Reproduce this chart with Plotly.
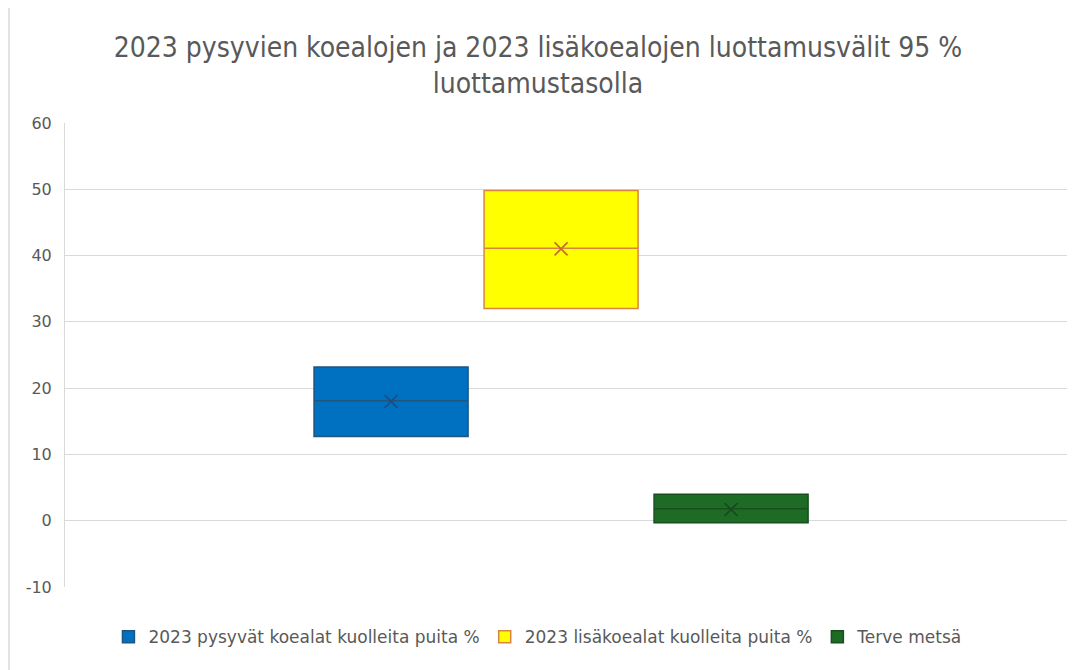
import plotly.graph_objects as go

series = ["2023 pysyvät koealat kuolleita puita %",
          "2023 lisäkoealat kuolleita puita %",
          "Terve metsä"]
q1 = [12.7, 32.0, -0.3]
median = [18.1, 41.1, 1.8]
q3 = [23.2, 49.8, 4.0]
mean = [18.0, 41.0, 1.7]

y_tickvals = [-10, 0, 10, 20, 30, 40, 50, 60]
y_ticktext = ["-10", "0", "10", "20", "30", "40", "50", "60"]

fill_colors = ["#0070C0", "#FFFF00", "#1E6B26"]
line_colors = ["#1F5680", "#D9853F", "#17501E"]
mean_colors = ["#1B4F78", "#C9692E", "#16491C"]

fig = go.Figure()
for i, name in enumerate(series):
    fig.add_trace(go.Box(
        name=name, x=[name],
        q1=[q1[i]], median=[median[i]], q3=[q3[i]],
        lowerfence=[q1[i]], upperfence=[q3[i]],
        fillcolor=fill_colors[i],
        line=dict(color=line_colors[i], width=1.5),
        whiskerwidth=0, width=0.906,
        hoverinfo="skip",
    ))
fig.add_trace(go.Scatter(
    x=series, y=mean, mode="markers", showlegend=False,
    marker=dict(symbol="x-thin", size=13,
                line=dict(color=mean_colors, width=1.6)),
    hoverinfo="skip",
))

fig.update_layout(
    width=1070, height=662,
    margin=dict(l=57, r=11, t=115, b=83),
    paper_bgcolor="white", plot_bgcolor="white",
    title=dict(
        text="2023 pysyvien koealojen ja 2023 lisäkoealojen luottamusvälit 95 %<br>luottamustasolla",
        x=0.4953, xanchor="center", y=0.926, yanchor="top",
        font=dict(family="Liberation Sans Narrow, DejaVu Sans Condensed, Arial Narrow, sans-serif",
                  size=28, color="#595959"),
    ),
    font=dict(family="DejaVu Sans, sans-serif", size=15, color="#595959"),
    showlegend=True,
    legend=dict(orientation="h", x=0.472, xanchor="center", y=-0.108, yanchor="middle",
                font=dict(size=17, color="#595959"), traceorder="normal"),
    xaxis=dict(type="category", range=[-1.918, 3.976], showticklabels=False,
               showgrid=False, zeroline=False, showline=False, ticks=""),
    yaxis=dict(range=[-10, 60], tickvals=y_tickvals, ticktext=y_ticktext,
               showgrid=True, gridcolor="#D9D9D9", automargin=False,
               gridwidth=1, zeroline=False, showline=True, linecolor="#D9D9D9",
               ticks="", tickfont=dict(size=16, color="#595959"), ticklabelstandoff=9),
    shapes=[dict(type="line", xref="paper", yref="paper", x0=-0.0559, x1=-0.0559,
                 y0=-0.18, y1=1.25, line=dict(color="#D9D9D9", width=1.5))],
)

fig.write_html("out.html")
